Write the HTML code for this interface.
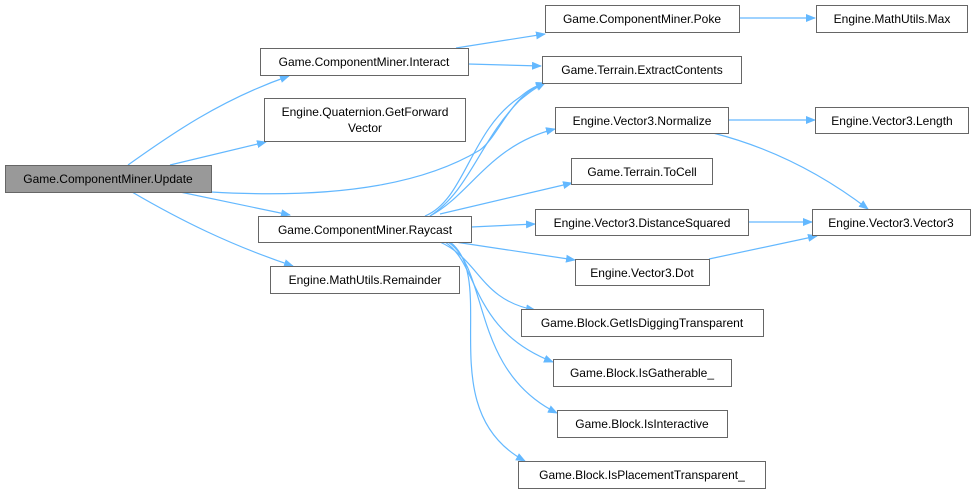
<!DOCTYPE html>
<html><head><meta charset="utf-8"><style>
body{margin:0;background:#fff;}
svg text{font-family:"Liberation Sans",sans-serif;font-size:12px;fill:#000;}
</style></head><body>
<svg width="976" height="493" viewBox="0 0 976 493" xmlns="http://www.w3.org/2000/svg">
<defs><marker id="a" markerWidth="10" markerHeight="8" refX="9" refY="4" orient="auto" markerUnits="userSpaceOnUse"><path d="M0,0 L10,4 L0,8 z" fill="#63b8ff"/></marker></defs>
<g fill="none" stroke="#63b8ff" stroke-width="1.2" marker-end="url(#a)">
<path d="M128,165 C170,135 220,100 289,76"/>
<path d="M170,165 L266,142"/>
<path d="M211,192 C350,200 430,180 480,150 C500,135 510,95 545,83"/>
<path d="M180,192 L290,215"/>
<path d="M132,192 C180,220 230,245 293,266"/>
<path d="M456,48 L545,34"/>
<path d="M468,64 L541,66"/>
<path d="M739,18 L815,18"/>
<path d="M425,216 C465,200 470,130 520,97 C525,93 530,88 545,83"/>
<path d="M430,216 C470,190 480,140 520,100 C530,92 535,88 545,83"/>
<path d="M430,216 C470,195 490,145 555,129"/>
<path d="M440,214 L572,183"/>
<path d="M471,227 L535,224"/>
<path d="M455,242 L575,260"/>
<path d="M440,242 C480,260 480,300 535,310"/>
<path d="M445,242 C480,265 470,330 553,362"/>
<path d="M448,242 C490,270 470,370 557,413"/>
<path d="M450,242 C500,280 430,410 525,461"/>
<path d="M728,120 L815,120"/>
<path d="M713,133 C780,150 830,180 868,209"/>
<path d="M748,222 L812,222"/>
<path d="M709,259 L817,236"/>
</g>
<g stroke="#666" stroke-width="1" fill="#fff">
<rect x="5.5" y="165.5" width="206" height="27" fill="#999"/>
<rect x="260.5" y="48.5" width="208" height="27"/>
<rect x="264.5" y="98.5" width="201" height="43"/>
<rect x="258.5" y="216.5" width="213" height="26"/>
<rect x="270.5" y="266.5" width="189" height="27"/>
<rect x="545.5" y="5.5" width="194" height="27"/>
<rect x="542.5" y="56.5" width="199" height="27"/>
<rect x="555.5" y="107.5" width="173" height="26"/>
<rect x="571.5" y="158.5" width="141" height="26"/>
<rect x="535.5" y="209.5" width="213" height="26"/>
<rect x="575.5" y="259.5" width="134" height="26"/>
<rect x="521.5" y="309.5" width="242" height="27"/>
<rect x="553.5" y="359.5" width="178" height="27"/>
<rect x="557.5" y="410.5" width="170" height="27"/>
<rect x="518.5" y="461.5" width="247" height="27"/>
<rect x="816.5" y="5.5" width="151" height="27"/>
<rect x="815.5" y="107.5" width="153" height="26"/>
<rect x="812.5" y="209.5" width="158" height="26"/>
</g>
<g text-anchor="middle">
<text x="108" y="183">Game.ComponentMiner.Update</text>
<text x="364" y="66">Game.ComponentMiner.Interact</text>
<text x="365" y="116">Engine.Quaternion.GetForward</text>
<text x="365" y="132">Vector</text>
<text x="365" y="234">Game.ComponentMiner.Raycast</text>
<text x="365" y="284">Engine.MathUtils.Remainder</text>
<text x="642" y="23">Game.ComponentMiner.Poke</text>
<text x="642" y="74">Game.Terrain.ExtractContents</text>
<text x="642" y="125">Engine.Vector3.Normalize</text>
<text x="642" y="176">Game.Terrain.ToCell</text>
<text x="642" y="227">Engine.Vector3.DistanceSquared</text>
<text x="642" y="277">Engine.Vector3.Dot</text>
<text x="642" y="327">Game.Block.GetIsDiggingTransparent</text>
<text x="642" y="377">Game.Block.IsGatherable_</text>
<text x="642" y="428">Game.Block.IsInteractive</text>
<text x="642" y="479">Game.Block.IsPlacementTransparent_</text>
<text x="892" y="23">Engine.MathUtils.Max</text>
<text x="892" y="125">Engine.Vector3.Length</text>
<text x="891" y="227">Engine.Vector3.Vector3</text>
</g>
</svg>
</body></html>
